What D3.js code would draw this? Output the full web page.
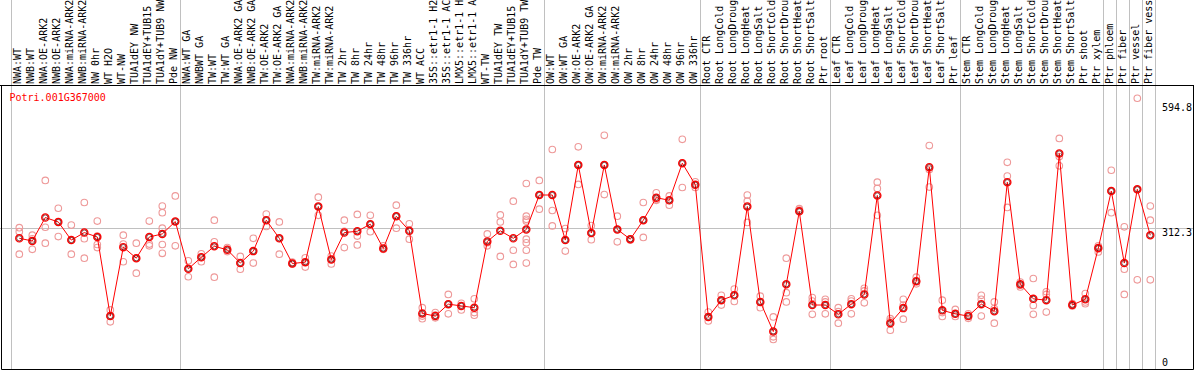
<!DOCTYPE html>
<html>
<head>
<meta charset="utf-8">
<script src="https://cdn.jsdelivr.net/npm/d3@7.9.0/dist/d3.min.js"></script>
<style>
  body { margin: 0; background: #fff; }
  svg { display: block; }
  text { font-family: "DejaVu Sans Mono", monospace; font-size: 10px; }
</style>
</head>
<body>
<svg id="chart" width="1194" height="370"></svg>
<script>
const gene = 'Potri.001G367000';

const samples = [
  'NWA:WT', 'NWB:WT', 'NWA:OE-ARK2', 'NWB:OE-ARK2', 'NWA:miRNA-ARK2', 'NWB:miRNA-ARK2',
  'NW 0hr', 'WT H2O', 'WT-NW', 'TUA1dEY NW', 'TUA1dEY+TUB15 NW', 'TUA1dY+TUB9 NW', 'Pde NW',
  'NWA:WT GA', 'NWBWT GA', 'TW:WT', 'TW:WT GA', 'NWA:OE-ARK2 GA', 'NWB:OE-ARK2 GA',
  'TW:OE-ARK2', 'TW:OE-ARK2 GA', 'NWA:miRNA-ARK2 GA', 'NWB:miRNA-ARK2 GA', 'TW:miRNA-ARK2',
  'TW:miRNA-ARK2 GA', 'TW 2hr', 'TW 8hr', 'TW 24hr', 'TW 48hr', 'TW 96hr', 'TW 336hr', 'WT ACC',
  '35S::etr1-1 H2O', '35S::etr1-1 ACC', 'LMX5::etr1-1 H2O', 'LMX5::etr1-1 ACC', 'WT-TW',
  'TUA1dEY TW', 'TUA1dEY+TUB15 TW', 'TUA1dY+TUB9 TW', 'Pde TW',
  'OW:WT', 'OW:WT GA', 'OW:OE-ARK2', 'OW:OE-ARK2 GA', 'OW:miRNA-ARK2', 'OW:miRNA-ARK2 GA',
  'OW 2hr', 'OW 8hr', 'OW 24hr', 'OW 48hr', 'OW 96hr', 'OW 336hr',
  'Root CTR', 'Root LongCold', 'Root LongDrought', 'Root LongHeat', 'Root LongSalt',
  'Root ShortCold', 'Root ShortDrought', 'Root ShortHeat', 'Root ShortSalt', 'Ptr root',
  'Leaf CTR', 'Leaf LongCold', 'Leaf LongDrought', 'Leaf LongHeat', 'Leaf LongSalt',
  'Leaf ShortCold', 'Leaf ShortDrought', 'Leaf ShortHeat', 'Leaf ShortSalt', 'Ptr leaf',
  'Stem CTR', 'Stem LongCold', 'Stem LongDrought', 'Stem LongHeat', 'Stem LongSalt',
  'Stem ShortCold', 'Stem ShortDrought', 'Stem ShortHeat', 'Stem ShortSalt', 'Ptr shoot',
  'Ptr xylem', 'Ptr phloem', 'Ptr fiber', 'Ptr vessel', 'Ptr fiber vessel'
];

// index of the first sample of each group (last entry closes the chart)
const groupStarts = [0, 13, 41, 53, 63, 73, 84, 85, 86, 87, 88];

const means = [
  289, 283, 336, 326, 285, 302, 292, 113, 269, 244, 292, 299, 327,
  220, 246, 271, 263, 233, 260, 330, 289, 232, 235, 361, 241, 302, 305, 321, 266, 339,
  306, 119, 113, 140, 136, 132, 282, 306, 289, 309, 387,
  387, 285, 455, 301, 455, 309, 287, 330, 381, 375, 459, 410,
  111, 149, 160, 361, 145, 78, 185, 350, 138, 138,
  117, 140, 162, 386, 97, 131, 192, 450, 126, 118,
  113, 140, 124, 416, 185, 152, 149, 481, 138, 151,
  267, 396, 233, 400, 296
];

const replicates = [
  [313, 304, 253], [296, 288, 264], [420, 314, 278], [357, 326, 293], [319, 285, 253],
  [370, 288, 244], [328, 294, 275, 268], [127, 113, 100], [296, 276, 236], [278, 244, 210],
  [328, 276, 272], [362, 347, 312, 275, 255], [385, 327, 272],
  [238, 220, 202], [254, 246, 236], [330, 281, 201], [268, 264, 259], [248, 233, 219],
  [289, 260, 233], [344, 330, 316], [326, 289, 253], [235, 232, 231], [245, 235, 224],
  [382, 361, 341], [249, 241, 231], [330, 305, 268], [343, 294, 274], [341, 321, 304],
  [272, 266, 264], [364, 339, 312], [322, 305, 287], [132, 113, 107], [121, 115, 109],
  [162, 140, 118], [142, 136, 127], [152, 121, 115], [299, 279, 272], [342, 326, 248],
  [373, 262, 230], [413, 339, 332, 328, 287, 279, 262, 233], [420, 387, 355],
  [490, 352, 317], [311, 285, 260], [496, 455, 411], [318, 301, 286], [522, 455, 388],
  [339, 309, 281], [288, 287, 285], [370, 330, 291], [392, 377, 375], [385, 375, 364],
  [513, 459, 404], [417, 410, 404],
  [122, 111, 102], [160, 149, 138], [174, 160, 146], [387, 373, 325], [158, 145, 132],
  [111, 66, 60], [244, 166, 145], [356, 353, 350], [155, 147, 117], [151, 145, 118],
  [132, 123, 97], [152, 147, 118], [176, 170, 143], [416, 402, 341], [107, 102, 81],
  [151, 138, 106], [201, 192, 186], [499, 445, 405], [149, 121, 112], [128, 118, 112],
  [118, 113, 108], [160, 151, 113], [145, 130, 97], [461, 430, 359], [190, 183, 179],
  [198, 137, 117], [168, 162, 122], [515, 474, 453], [141, 138, 136], [164, 145, 141],
  [272, 265, 258], [443, 396, 347], [315, 219, 162], [606, 399, 195], [362, 330, 195]
];

const axisTicks = [594.8, 312.3, 0];
const refLine = 312.3;

const width = 1194;
const plotTop = 85.5;
const plotBottom = 369.5;
const maxLabelChars = 14; // the original cuts sample names to 14 characters

const svg = d3.select('#chart');

let x = d3.scaleBand().domain(d3.range(samples.length)).range([10.8, 1154.8]);
let y = d3.scaleLinear().domain([0, 594.8]).range([366, 103.2]);
const cx = (i) => x(i) + 8.5;
const snap = (v) => Math.round(v) + 0.5;
const edge = (d) => (d < samples.length ? x(d) : x(samples.length - 1) + x.bandwidth());

// group separators, through the label band and the plot
svg.append('g')
  .selectAll('line')
  .data(groupStarts)
  .join('line')
  .attr('x1', (d) => snap(edge(d)))
  .attr('x2', (d) => snap(edge(d)))
  .attr('y1', 0)
  .attr('y2', plotBottom)
  .attr('stroke', '#c0c0c0');

// horizontal reference line
svg.append('line')
  .attr('x1', 0).attr('x2', width)
  .attr('y1', snap(y(refLine))).attr('y2', snap(y(refLine)))
  .attr('stroke', '#c0c0c0');

// frame
svg.append('path')
  .attr('d', `M0,${plotTop}H${width}M1.5,${plotTop}V${plotBottom}H${width - 0.5}V${plotTop}`)
  .attr('fill', 'none')
  .attr('stroke', '#000');

// sample labels, rotated and shortened like the original
svg.append('g')
  .selectAll('text')
  .data(samples)
  .join('text')
  .attr('transform', (d, i) => `translate(${x(i) + 6.4},84) rotate(-90)`)
  .attr('dy', '0.36em')
  .attr('fill', '#000')
  .text((d) => d.slice(0, maxLabelChars).trimEnd());

// right axis values
svg.append('g')
  .selectAll('text')
  .data(axisTicks)
  .join('text')
  .attr('x', 1162)
  .attr('y', (d) => Math.min(y(d) + 8, 366))
  .attr('fill', '#000')
  .text((d) => d);

svg.append('text')
  .attr('x', 9.5)
  .attr('y', 101)
  .attr('fill', '#ff0000')
  .text(gene);

// replicate circles
let reps = replicates.flatMap((vals, i) => vals.map((v) => ({ i, v })));
svg.append('g')
  .selectAll('circle')
  .data(reps)
  .join('circle')
  .attr('cx', (d) => cx(d.i))
  .attr('cy', (d) => y(d.v))
  .attr('r', 3.3)
  .attr('fill', 'none')
  .attr('stroke', '#ee9999')
  .attr('stroke-width', 1.1);

// mean line
let line = d3.line().x((d, i) => cx(i)).y((d) => y(d));
svg.append('path')
  .datum(means)
  .attr('d', line)
  .attr('fill', 'none')
  .attr('stroke', '#ff0000')
  .attr('stroke-width', 1);

// mean markers
let marks = svg.append('g')
  .selectAll('g')
  .data(means)
  .join('g')
  .attr('transform', (d, i) => `translate(${cx(i)},${y(d)})`);
marks.append('circle')
  .attr('r', 3.6)
  .attr('fill', 'none')
  .attr('stroke', '#ff0000')
  .attr('stroke-width', 1.3);
marks.append('circle')
  .attr('r', 2.6)
  .attr('fill', 'none')
  .attr('stroke', '#550000')
  .attr('stroke-width', 0.7);
</script>
</body>
</html>
